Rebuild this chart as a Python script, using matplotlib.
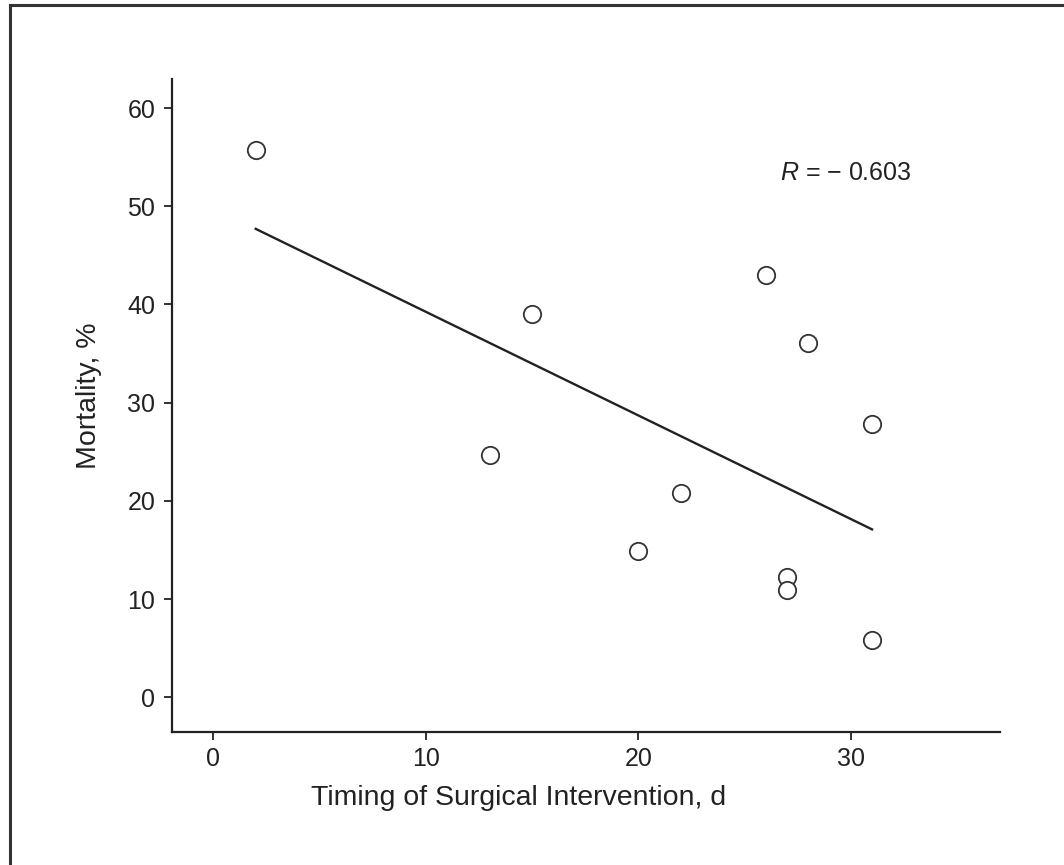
import matplotlib
matplotlib.use("Agg")
import matplotlib.pyplot as plt
from matplotlib.lines import Line2D

# Data
timing_days = [2, 13, 15, 20, 22, 26, 28, 31, 27, 27, 31]
mortality_pct = [55.7, 24.7, 39.0, 14.9, 20.8, 43.0, 36.1, 27.8, 12.3, 10.9, 5.8]
fit_x = [2, 31]
fit_y = [47.7, 17.1]
x_ticks = [0, 10, 20, 30]
y_ticks = [0, 10, 20, 30, 40, 50, 60]
r_text = "$\\it{R}$ = \u2212 0.603"

fam = "Liberation Sans"
plt.rcParams["font.family"] = [fam, "DejaVu Sans"]
plt.rcParams["mathtext.fontset"] = "custom"
plt.rcParams["mathtext.it"] = fam + ":italic"
plt.rcParams["mathtext.rm"] = fam

fig = plt.figure(figsize=(10.64, 8.65), dpi=100)
ax = fig.add_axes([172/1064, 1-731.5/865, (1000-172)/1064, (731.5-79.3)/865])

col = "#222222"
ax.plot(fit_x, fit_y, color=col, lw=1.7)
ax.plot(timing_days, mortality_pct, "o", mfc="white", mec="#333333",
        ms=12.5, mew=1.3, ls="none")

ax.set_xlim(-1.94, 37.02)
ax.set_ylim(-3.48, 62.93)
ax.set_xticks(x_ticks)
ax.set_yticks(y_ticks)
for s in ["top", "right"]:
    ax.spines[s].set_visible(False)
for s in ["left", "bottom"]:
    ax.spines[s].set_linewidth(1.6)
    ax.spines[s].set_color(col)
ax.tick_params(direction="out", length=6, width=1.3, colors=col,
               labelsize=18)
ax.tick_params(axis="y", pad=6)
ax.tick_params(axis="x", pad=5)
ax.set_xlabel("Timing of Surgical Intervention, d", fontsize=20.5, color=col, labelpad=14)
ax.set_ylabel("Mortality, %", fontsize=20.5, color=col, labelpad=18)
ax.xaxis.set_label_coords(0.418, -0.082)
ax.yaxis.label.set_position((0, 0.515))

ax.text(26.65, 53.4, r_text, fontsize=18, color=col, va="center", ha="left")

# figure frame (top and left visible)
fig.add_artist(Line2D([10/1064, 10/1064], [0, 1-5/865], transform=fig.transFigure,
                      color="#333333", lw=2.2))
fig.add_artist(Line2D([10/1064, 1], [1-5/865, 1-5/865], transform=fig.transFigure,
                      color="#333333", lw=2.2))

fig.savefig("out.png", dpi=100)
